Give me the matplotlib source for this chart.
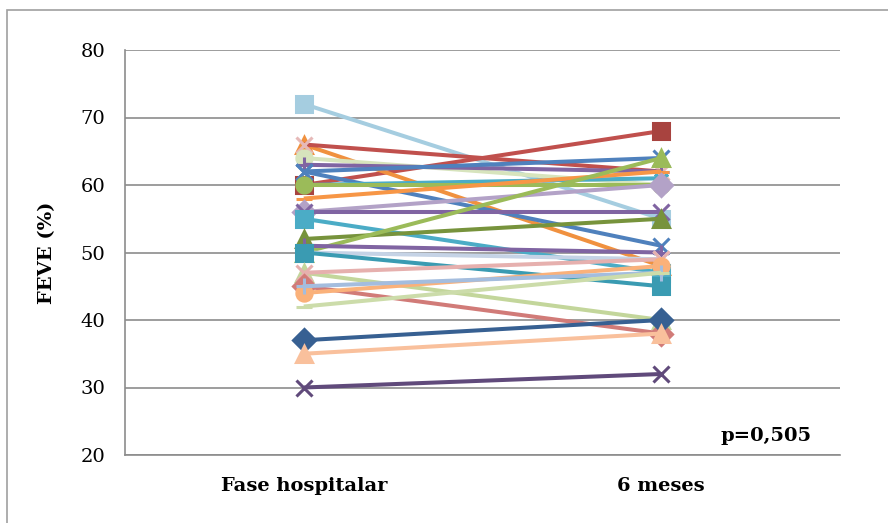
import matplotlib
matplotlib.use("Agg")
import matplotlib.pyplot as plt
from matplotlib.patches import Rectangle

plt.rcParams['font.family'] = ['DejaVu Serif']

# categories and values (FEVE %, hospital phase -> 6 months)
categories = ['Fase hospitalar', '6 meses']
fase_hospitalar = [72, 60, 66, 66, 64, 63, 62, 62, 60, 60, 58, 56, 56, 55,
                   52, 50, 51, 50, 50, 47, 47, 45, 44, 45, 42, 37, 35, 30]
seis_meses = [55, 68, 48, 62, 60, 62, 64, 51, 61, 60, 62, 60, 56, 47,
              55, 64, 50, 49, 45, 40, 49, 38, 48, 47, 47, 40, 38, 32]
y_ticks = [20, 30, 40, 50, 60, 70, 80]
p_text = 'p=0,505'

# styles per series (Excel-like palette)
line_colors = ['#A5CDE0', '#C0504D', '#F0913F', '#C0504D', '#D7E4BD', '#8064A2',
               '#4F81BD', '#4F81BD', '#4BACC6', '#9BBB59', '#F79646', '#B3A2C7',
               '#8064A2', '#4BACC6', '#77933C', '#9BBB59', '#8064A2', '#C5D3E6',
               '#3A9BB2', '#C3D69B', '#E6B0AE', '#D17B78', '#FAB17A', '#A4BDDE',
               '#CCDCAA', '#376092', '#F9C09C', '#604A7B']
marker_colors = ['#A5CDE0', '#A8433F', '#F0913F', '#E6B9B8', '#D7E4BD', '#8064A2',
                 '#4F81BD', '#4F81BD', '#4BACC6', '#9BBB59', '#F79646', '#B3A2C7',
                 '#8064A2', '#4BACC6', '#77933C', '#9BBB59', '#8064A2', '#C5D3E6',
                 '#3A9BB2', '#C3D69B', '#E6B0AE', '#D17B78', '#FAB17A', '#A4BDDE',
                 '#CCDCAA', '#376092', '#F9C09C', '#604A7B']
markers = ['s', 's', '^', 'x', 'o', '+', 'x', 'x', (6, 2, 0), 'o', '_', 'D',
           'x', 's', '^', '^', '+', 'x', 's', '^', 'x', 'D', 'o', '+',
           '_', 'D', '^', 'x']

fig = plt.figure(figsize=(8.88, 5.23), dpi=100)
ax = fig.add_axes([125/888, 1 - 455/523, 715/888, 405/523])

# chart area frame
fig.patches.append(Rectangle((7/888, -0.05), 1.2, 1 - 10/523 + 0.05,
                             transform=fig.transFigure, fill=False,
                             edgecolor='#A0A0A0', linewidth=1.2))

xs = [0, 1]
for i in range(len(fase_hospitalar)):
    ax.plot(xs, [fase_hospitalar[i], seis_meses[i]], color=line_colors[i],
            linewidth=2.9, marker=markers[i], markersize=11,
            markerfacecolor=marker_colors[i], markeredgecolor=marker_colors[i],
            markeredgewidth=2.2, solid_capstyle='butt', zorder=3)

ax.set_xlim(-0.5, 1.5)
ax.set_ylim(20, 80)
ax.set_yticks(y_ticks)
ax.set_xticks(xs)
ax.set_xticklabels(categories, fontsize=14, fontweight='bold')
ax.tick_params(axis='x', length=0, pad=16)
ax.tick_params(axis='y', length=0, labelsize=14, pad=14)
ax.grid(axis='y', color='#8C8C8C', linewidth=1.2, zorder=0)
for side in ['top', 'right']:
    ax.spines[side].set_visible(False)
for side in ['left', 'bottom']:
    ax.spines[side].set_color('#8C8C8C')
    ax.spines[side].set_linewidth(1.2)
ax.set_ylabel('FEVE (%)', fontsize=14, fontweight='bold', labelpad=18)

ax.text(1.42, 22.8, p_text, fontsize=14, fontweight='bold', ha='right', va='center')

fig.savefig('out.png', dpi=100)
